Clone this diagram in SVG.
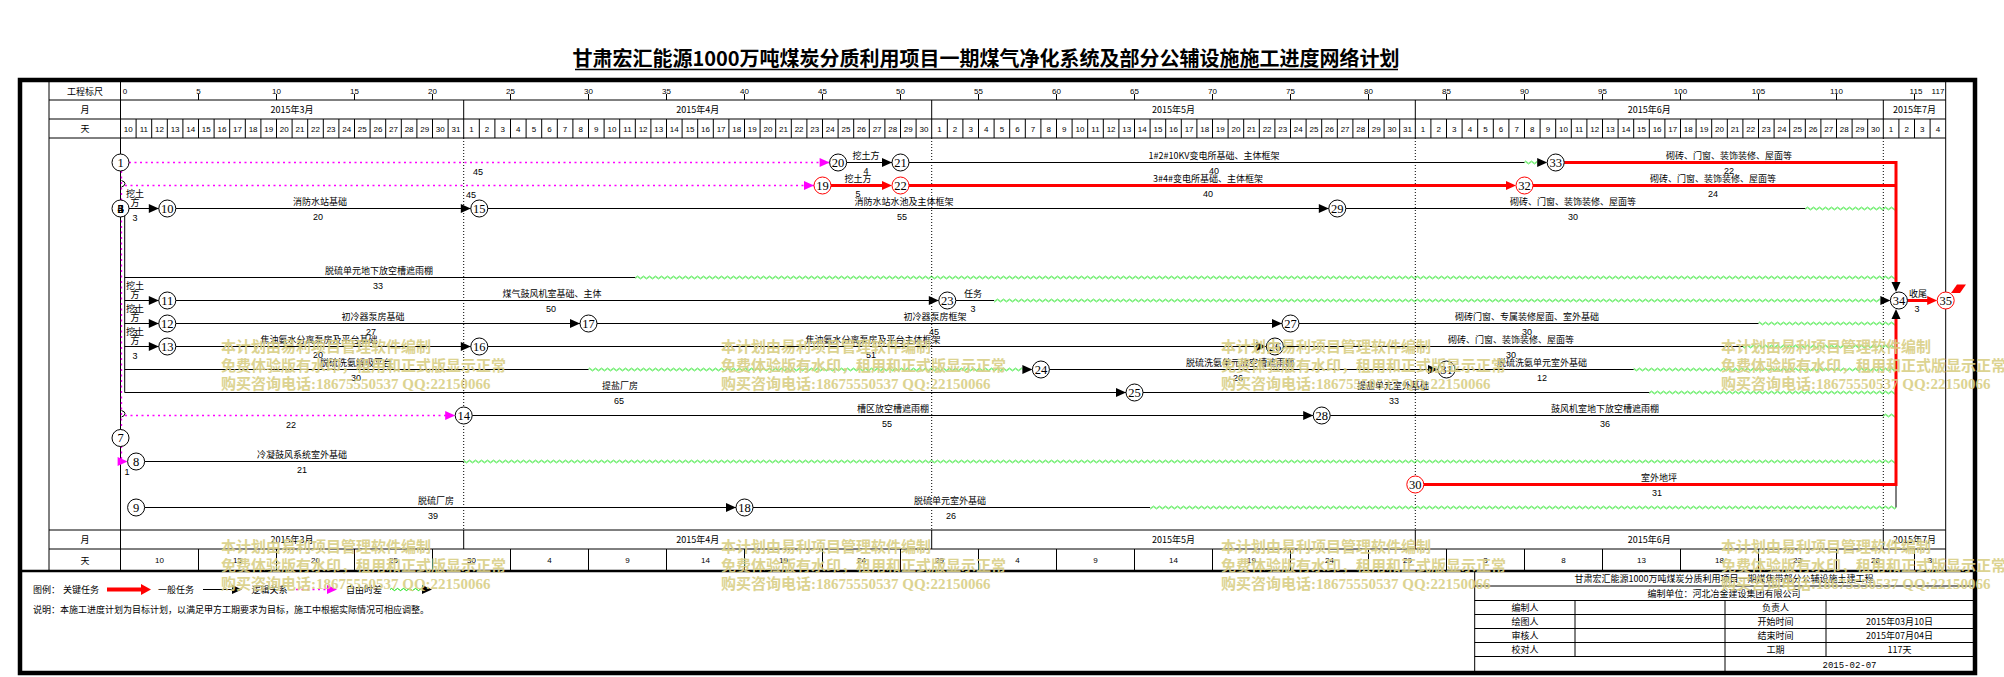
<svg xmlns="http://www.w3.org/2000/svg" xmlns:xlink="http://www.w3.org/1999/xlink" width="2004" height="677" viewBox="0 0 2004 677">
<style>
.t{font-family:"Noto Sans CJK SC","Liberation Sans",sans-serif;font-size:9px;fill:#000}
.c{text-anchor:middle}
.s{text-anchor:start}
.e{text-anchor:end}
.n8{font-family:"Liberation Sans",sans-serif;font-size:8px;fill:#000;text-anchor:middle}
.du{font-family:"Liberation Sans",sans-serif;font-size:9px;fill:#000;text-anchor:middle}
.lb{font-family:"Noto Sans CJK SC","Liberation Sans",sans-serif;font-size:9px;fill:#000;text-anchor:middle}
.nd circle{fill:#fff;stroke:#000;stroke-width:1}
.nd.red circle{stroke:#f00}
.nd text{font-family:"Liberation Serif",serif;font-size:12.5px;fill:#000;text-anchor:middle}
.ln{stroke:#000;stroke-width:1;fill:none}
.crl{stroke:#f00;stroke-width:3;fill:none}
.dm{stroke:#f0f;stroke-width:1.3;stroke-dasharray:2 3.5;fill:none}
.dt{stroke:#000;stroke-width:1;stroke-dasharray:1 2;fill:none}
.ab{fill:#000}
.ar{fill:#f00}
.am{fill:#f0f}
.wv{fill:url(#wave)}
.wm{font-family:"Liberation Serif","Noto Sans CJK SC",serif;font-size:15px;font-weight:bold;fill:#d9cf86;opacity:0.9}
</style>
<defs>
<path id="ah" d="M0,0 L-10,-4.5 L-10,4.5 Z"/>
<pattern id="wave" patternUnits="userSpaceOnUse" x="0" y="159.5" width="6" height="23">
<path d="M0,3 Q1.5,0.8 3,3 T6,3" fill="none" stroke="#00e000" stroke-width="1"/>
</pattern>
</defs>
<rect width="2004" height="677" fill="#fff"/>

<!-- title -->
<text x="986" y="66" text-anchor="middle" style="font-family:'Noto Sans CJK SC',sans-serif;font-size:20px;font-weight:bold">甘肃宏汇能源1000万吨煤炭分质利用项目一期煤气净化系统及部分公辅设施施工进度网络计划</text>
<line x1="575" y1="69.5" x2="1398" y2="69.5" stroke="#000" stroke-width="1.3"/>

<!-- frame and grid -->
<g id="frame">
<rect x="20" y="80" width="1955" height="593" fill="none" stroke="#000" stroke-width="4.5"/>
<line x1="20" y1="571" x2="1975" y2="571" stroke="#000" stroke-width="2.5"/>
<path class="ln" d="M49 100H1945.7M49 119H1945.7M49 138H1945.7M49 530H1945.7M49 549H1945.7M49 82V570M120.5 82V570M1945.7 82V570"/>
<path class="ln" d="M198.5 94v6M276.5 94v6M354.5 94v6M432.5 94v6M510.5 94v6M588.5 94v6M666.5 94v6M744.5 94v6M822.5 94v6M900.5 94v6M978.5 94v6M1056.5 94v6M1134.5 94v6M1212.5 94v6M1290.5 94v6M1368.5 94v6M1446.5 94v6M1524.5 94v6M1602.5 94v6M1680.5 94v6M1758.5 94v6M1836.5 94v6M1914.5 94v6"/>
<path class="ln" d="M463.7 100v19M931.7 100v19M1415.3 100v19M1883.3 100v19M463.7 530v19M931.7 530v19M1415.3 530v19M1883.3 530v19"/>
<path class="ln" d="M136.1 119v19M151.7 119v19M167.3 119v19M182.9 119v19M198.5 119v19M214.1 119v19M229.7 119v19M245.3 119v19M260.9 119v19M276.5 119v19M292.1 119v19M307.7 119v19M323.3 119v19M338.9 119v19M354.5 119v19M370.1 119v19M385.7 119v19M401.3 119v19M416.9 119v19M432.5 119v19M448.1 119v19M463.7 119v19M479.3 119v19M494.9 119v19M510.5 119v19M526.1 119v19M541.7 119v19M557.3 119v19M572.9 119v19M588.5 119v19M604.1 119v19M619.7 119v19M635.3 119v19M650.9 119v19M666.5 119v19M682.1 119v19M697.7 119v19M713.3 119v19M728.9 119v19M744.5 119v19M760.1 119v19M775.7 119v19M791.3 119v19M806.9 119v19M822.5 119v19M838.1 119v19M853.7 119v19M869.3 119v19M884.9 119v19M900.5 119v19M916.1 119v19M931.7 119v19M947.3 119v19M962.9 119v19M978.5 119v19M994.1 119v19M1009.7 119v19M1025.3 119v19M1040.9 119v19M1056.5 119v19M1072.1 119v19M1087.7 119v19M1103.3 119v19M1118.9 119v19M1134.5 119v19M1150.1 119v19M1165.7 119v19M1181.3 119v19M1196.9 119v19M1212.5 119v19M1228.1 119v19M1243.7 119v19M1259.3 119v19M1274.9 119v19M1290.5 119v19M1306.1 119v19M1321.7 119v19M1337.3 119v19M1352.9 119v19M1368.5 119v19M1384.1 119v19M1399.7 119v19M1415.3 119v19M1430.9 119v19M1446.5 119v19M1462.1 119v19M1477.7 119v19M1493.3 119v19M1508.9 119v19M1524.5 119v19M1540.1 119v19M1555.7 119v19M1571.3 119v19M1586.9 119v19M1602.5 119v19M1618.1 119v19M1633.7 119v19M1649.3 119v19M1664.9 119v19M1680.5 119v19M1696.1 119v19M1711.7 119v19M1727.3 119v19M1742.9 119v19M1758.5 119v19M1774.1 119v19M1789.7 119v19M1805.3 119v19M1820.9 119v19M1836.5 119v19M1852.1 119v19M1867.7 119v19M1883.3 119v19M1898.9 119v19M1914.5 119v19M1930.1 119v19"/>
<path class="ln" d="M198.5 549v21M276.5 549v21M354.5 549v21M432.5 549v21M510.5 549v21M588.5 549v21M666.5 549v21M744.5 549v21M822.5 549v21M900.5 549v21M978.5 549v21M1056.5 549v21M1134.5 549v21M1212.5 549v21M1290.5 549v21M1368.5 549v21M1446.5 549v21M1524.5 549v21M1602.5 549v21M1680.5 549v21M1758.5 549v21M1836.5 549v21M1914.5 549v21"/>
<path class="dt" d="M463.7 138V530M931.7 138V530M1415.3 138V530M1883.3 138V530"/>
</g>

<!-- header text -->
<g id="header">
<text class="t c" x="85" y="94.5">工程标尺</text>
<text class="t c" x="85" y="113">月</text>
<text class="t c" x="85" y="132">天</text>
<text class="t c" x="85" y="543">月</text>
<text class="t c" x="85" y="563.5">天</text>
<text class="n8" y="94"><tspan x="125">0</tspan><tspan x="198.5">5</tspan><tspan x="276.5">10</tspan><tspan x="354.5">15</tspan><tspan x="432.5">20</tspan><tspan x="510.5">25</tspan><tspan x="588.5">30</tspan><tspan x="666.5">35</tspan><tspan x="744.5">40</tspan><tspan x="822.5">45</tspan><tspan x="900.5">50</tspan><tspan x="978.5">55</tspan><tspan x="1056.5">60</tspan><tspan x="1134.5">65</tspan><tspan x="1212.5">70</tspan><tspan x="1290.5">75</tspan><tspan x="1368.5">80</tspan><tspan x="1446.5">85</tspan><tspan x="1524.5">90</tspan><tspan x="1602.5">95</tspan><tspan x="1680.5">100</tspan><tspan x="1758.5">105</tspan><tspan x="1836.5">110</tspan><tspan x="1916">115</tspan><tspan x="1938">117</tspan></text>
<text class="t c" y="112.5"><tspan x="292.1">2015年3月</tspan><tspan x="697.7">2015年4月</tspan><tspan x="1173.5">2015年5月</tspan><tspan x="1649.3">2015年6月</tspan><tspan x="1914.5">2015年7月</tspan></text>
<text class="t c" y="542.5"><tspan x="292.1">2015年3月</tspan><tspan x="697.7">2015年4月</tspan><tspan x="1173.5">2015年5月</tspan><tspan x="1649.3">2015年6月</tspan><tspan x="1914.5">2015年7月</tspan></text>
<text class="n8" y="131.5"><tspan x="128.3">10</tspan><tspan x="143.9">11</tspan><tspan x="159.5">12</tspan><tspan x="175.1">13</tspan><tspan x="190.7">14</tspan><tspan x="206.3">15</tspan><tspan x="221.9">16</tspan><tspan x="237.5">17</tspan><tspan x="253.1">18</tspan><tspan x="268.7">19</tspan><tspan x="284.3">20</tspan><tspan x="299.9">21</tspan><tspan x="315.5">22</tspan><tspan x="331.1">23</tspan><tspan x="346.7">24</tspan><tspan x="362.3">25</tspan><tspan x="377.9">26</tspan><tspan x="393.5">27</tspan><tspan x="409.1">28</tspan><tspan x="424.7">29</tspan><tspan x="440.3">30</tspan><tspan x="455.9">31</tspan></text>
<text class="n8" y="131.5"><tspan x="471.5">1</tspan><tspan x="487.1">2</tspan><tspan x="502.7">3</tspan><tspan x="518.3">4</tspan><tspan x="533.9">5</tspan><tspan x="549.5">6</tspan><tspan x="565.1">7</tspan><tspan x="580.7">8</tspan><tspan x="596.3">9</tspan><tspan x="611.9">10</tspan><tspan x="627.5">11</tspan><tspan x="643.1">12</tspan><tspan x="658.7">13</tspan><tspan x="674.3">14</tspan><tspan x="689.9">15</tspan><tspan x="705.5">16</tspan><tspan x="721.1">17</tspan><tspan x="736.7">18</tspan><tspan x="752.3">19</tspan><tspan x="767.9">20</tspan><tspan x="783.5">21</tspan><tspan x="799.1">22</tspan><tspan x="814.7">23</tspan><tspan x="830.3">24</tspan><tspan x="845.9">25</tspan><tspan x="861.5">26</tspan><tspan x="877.1">27</tspan><tspan x="892.7">28</tspan><tspan x="908.3">29</tspan><tspan x="923.9">30</tspan></text>
<text class="n8" y="131.5"><tspan x="939.5">1</tspan><tspan x="955.1">2</tspan><tspan x="970.7">3</tspan><tspan x="986.3">4</tspan><tspan x="1001.9">5</tspan><tspan x="1017.5">6</tspan><tspan x="1033.1">7</tspan><tspan x="1048.7">8</tspan><tspan x="1064.3">9</tspan><tspan x="1079.9">10</tspan><tspan x="1095.5">11</tspan><tspan x="1111.1">12</tspan><tspan x="1126.7">13</tspan><tspan x="1142.3">14</tspan><tspan x="1157.9">15</tspan><tspan x="1173.5">16</tspan><tspan x="1189.1">17</tspan><tspan x="1204.7">18</tspan><tspan x="1220.3">19</tspan><tspan x="1235.9">20</tspan><tspan x="1251.5">21</tspan><tspan x="1267.1">22</tspan><tspan x="1282.7">23</tspan><tspan x="1298.3">24</tspan><tspan x="1313.9">25</tspan><tspan x="1329.5">26</tspan><tspan x="1345.1">27</tspan><tspan x="1360.7">28</tspan><tspan x="1376.3">29</tspan><tspan x="1391.9">30</tspan><tspan x="1407.5">31</tspan></text>
<text class="n8" y="131.5"><tspan x="1423.1">1</tspan><tspan x="1438.7">2</tspan><tspan x="1454.3">3</tspan><tspan x="1469.9">4</tspan><tspan x="1485.5">5</tspan><tspan x="1501.1">6</tspan><tspan x="1516.7">7</tspan><tspan x="1532.3">8</tspan><tspan x="1547.9">9</tspan><tspan x="1563.5">10</tspan><tspan x="1579.1">11</tspan><tspan x="1594.7">12</tspan><tspan x="1610.3">13</tspan><tspan x="1625.9">14</tspan><tspan x="1641.5">15</tspan><tspan x="1657.1">16</tspan><tspan x="1672.7">17</tspan><tspan x="1688.3">18</tspan><tspan x="1703.9">19</tspan><tspan x="1719.5">20</tspan><tspan x="1735.1">21</tspan><tspan x="1750.7">22</tspan><tspan x="1766.3">23</tspan><tspan x="1781.9">24</tspan><tspan x="1797.5">25</tspan><tspan x="1813.1">26</tspan><tspan x="1828.7">27</tspan><tspan x="1844.3">28</tspan><tspan x="1859.9">29</tspan><tspan x="1875.5">30</tspan><tspan x="1891.1">1</tspan><tspan x="1906.7">2</tspan><tspan x="1922.3">3</tspan><tspan x="1937.9">4</tspan></text>
<text class="n8" y="563"><tspan x="159.5">10</tspan><tspan x="237.5">15</tspan><tspan x="315.5">20</tspan><tspan x="393.5">25</tspan><tspan x="471.5">30</tspan><tspan x="549.5">4</tspan><tspan x="627.5">9</tspan><tspan x="705.5">14</tspan><tspan x="783.5">19</tspan><tspan x="861.5">24</tspan><tspan x="939.5">29</tspan><tspan x="1017.5">4</tspan><tspan x="1095.5">9</tspan><tspan x="1173.5">14</tspan><tspan x="1251.5">19</tspan><tspan x="1329.5">24</tspan><tspan x="1407.5">29</tspan><tspan x="1485.5">3</tspan><tspan x="1563.5">8</tspan><tspan x="1641.5">13</tspan><tspan x="1719.5">18</tspan><tspan x="1797.5">23</tspan><tspan x="1875.5">28</tspan><tspan x="1930.1">3</tspan></text>
</g>

<!-- connectors -->
<g id="connectors">
<path class="dm" d="M121.5 171V461.5M129 162.5H829.6M125 185.5H814M125 415.5H455.2"/>
<path class="ln" d="M121.5 180.5q3.5 1 3.5 3.2q0 2.2 -3.5 3.3M121.5 410.5q3.5 1 3.5 3.2q0 2.2 -3.5 3.3" stroke-width="0.8"/>
<path class="ln" d="M124.7 208.5V392.5"/>
<path class="ln" d="M846.6 162.5H892M909 162.5H1524.5
M124.7 208.5H158.8M175.8 208.5H470.8M487.8 208.5H1328.8M1345.8 208.5H1805.3
M124.7 277.5H635.3
M124.7 300.5H158.8M175.8 300.5H938.8M955.8 300.5H994.1
M124.7 323.5H158.8M175.8 323.5H580M597 323.5H1282M1299 323.5H1758.5
M124.7 346.5H158.8M175.8 346.5H470.8M487.8 346.5H1266.4M1283.4 346.5H1742.9
M124.7 369.5H588.5M1049.4 369.5H1438M1455 369.5H1633.7
M124.7 392.5H1126M1143 392.5H1649.3
M472.2 415.5H1313.2M1330.2 415.5H1883.3
M144.6 461.5H463.7
M144.6 507.5H736M753 507.5H1150.1
M1896 507.5V484.5"/>
<rect class="wv" x="1524.5" y="159.5" width="12.7" height="6"/>
<rect class="wv" x="1805.3" y="205.5" width="90.7" height="6"/>
<rect class="wv" x="635.3" y="274.5" width="1260.7" height="6"/>
<rect class="wv" x="994.1" y="297.5" width="886.3" height="6"/>
<rect class="wv" x="1758.5" y="320.5" width="137.5" height="6"/>
<rect class="wv" x="1742.9" y="343.5" width="153.1" height="6"/>
<rect class="wv" x="588.5" y="366.5" width="433.9" height="6"/>
<rect class="wv" x="1633.7" y="366.5" width="262.3" height="6"/>
<rect class="wv" x="1649.3" y="389.5" width="246.7" height="6"/>
<rect class="wv" x="1883.3" y="412.5" width="12.7" height="6"/>
<rect class="wv" x="463.7" y="458.5" width="1432.3" height="6"/>
<rect class="wv" x="1150.1" y="504.5" width="745.9" height="6"/>
<path class="crl" d="M831 185.5H883M909 185.5H1507M1533 185.5H1896M1564.2 162.5H1896V282M1423.8 484.5H1896V319M1907.4 300.5H1928"/>
<use href="#ah" xlink:href="#ah" class="am" x="829.6" y="162.5"/>
<use href="#ah" xlink:href="#ah" class="am" x="814" y="185.5"/>
<use href="#ah" xlink:href="#ah" class="am" x="455.2" y="415.5"/>
<use href="#ah" xlink:href="#ah" class="am" x="127.6" y="461.5"/>
<use href="#ah" xlink:href="#ah" class="ab" x="892" y="162.5"/>
<use href="#ah" xlink:href="#ah" class="ab" x="1547.2" y="162.5"/>
<use href="#ah" xlink:href="#ah" class="ar" x="892" y="185.5"/>
<use href="#ah" xlink:href="#ah" class="ar" x="1516" y="185.5"/>
<use href="#ah" xlink:href="#ah" class="ab" x="158.8" y="208.5"/>
<use href="#ah" xlink:href="#ah" class="ab" x="470.8" y="208.5"/>
<use href="#ah" xlink:href="#ah" class="ab" x="1328.8" y="208.5"/>
<use href="#ah" xlink:href="#ah" class="ab" x="158.8" y="300.5"/>
<use href="#ah" xlink:href="#ah" class="ab" x="938.8" y="300.5"/>
<use href="#ah" xlink:href="#ah" class="ab" x="1890.4" y="300.5"/>
<use href="#ah" xlink:href="#ah" class="ar" x="1937.2" y="300.5"/>
<use href="#ah" xlink:href="#ah" class="ab" x="158.8" y="323.5"/>
<use href="#ah" xlink:href="#ah" class="ab" x="580" y="323.5"/>
<use href="#ah" xlink:href="#ah" class="ab" x="1282" y="323.5"/>
<use href="#ah" xlink:href="#ah" class="ab" x="158.8" y="346.5"/>
<use href="#ah" xlink:href="#ah" class="ab" x="470.8" y="346.5"/>
<use href="#ah" xlink:href="#ah" class="ab" x="1266.4" y="346.5"/>
<use href="#ah" xlink:href="#ah" class="ab" x="1032.4" y="369.5"/>
<use href="#ah" xlink:href="#ah" class="ab" x="1438" y="369.5"/>
<use href="#ah" xlink:href="#ah" class="ab" x="1126" y="392.5"/>
<use href="#ah" xlink:href="#ah" class="ab" x="1313.2" y="415.5"/>
<use href="#ah" xlink:href="#ah" class="ab" x="736" y="507.5"/>
<use href="#ah" xlink:href="#ah" class="ab" transform="translate(1896,292) rotate(90)"/>
<use href="#ah" xlink:href="#ah" class="ab" transform="translate(1896,309) rotate(-90)"/>
</g>

<!-- task labels -->
<g id="labels">
<text class="lb" x="135" y="196.7">挖土</text><text class="lb" x="135" y="205.7">方</text><text class="du" x="135" y="220.5">3</text>
<text class="lb" x="135" y="288.7">挖土</text><text class="lb" x="135" y="297.7">方</text><text class="du" x="135" y="312.5">3</text>
<text class="lb" x="135" y="311.7">挖土</text><text class="lb" x="135" y="320.7">方</text><text class="du" x="135" y="335.5">3</text>
<text class="lb" x="135" y="334.7">挖土</text><text class="lb" x="135" y="343.7">方</text><text class="du" x="135" y="358.5">3</text>
<text class="du" x="478" y="174.5">45</text>
<text class="du" x="471" y="197.5">45</text>
<text class="du" x="291" y="427.5">22</text>
<text class="du" x="127" y="475">1</text>
<text class="lb" x="866" y="159">挖土方</text><text class="du" x="866" y="174">4</text>
<text class="lb" x="1214" y="159">1#2#10KV变电所基础、主体框架</text><text class="du" x="1214" y="174">40</text>
<text class="lb" x="1729" y="159">砌砖、门窗、装饰装修、屋面等</text><text class="du" x="1729" y="174">22</text>
<text class="lb" x="858" y="182">挖土方</text><text class="du" x="858" y="197">5</text>
<text class="lb" x="1208" y="182">3#4#变电所基础、主体框架</text><text class="du" x="1208" y="197">40</text>
<text class="lb" x="1713" y="182">砌砖、门窗、装饰装修、屋面等</text><text class="du" x="1713" y="197">24</text>
<text class="lb" x="320" y="205">消防水站基础</text><text class="du" x="318" y="220">20</text>
<text class="lb" x="904" y="205">消防水站水池及主体框架</text><text class="du" x="902" y="220">55</text>
<text class="lb" x="1573" y="205">砌砖、门窗、装饰装修、屋面等</text><text class="du" x="1573" y="220">30</text>
<text class="lb" x="379" y="274">脱硫单元地下放空槽遮雨棚</text><text class="du" x="378" y="289">33</text>
<text class="lb" x="552" y="297">煤气鼓风机室基础、主体</text><text class="du" x="551" y="312">50</text>
<text class="lb" x="973" y="297">任务</text><text class="du" x="973" y="312">3</text>
<text class="lb" x="1918" y="297">收尾</text><text class="du" x="1917" y="312">3</text>
<text class="lb" x="373" y="320">初冷器泵房基础</text><text class="du" x="371" y="335">27</text>
<text class="lb" x="935" y="320">初冷器泵房框架</text><text class="du" x="934" y="335">45</text>
<text class="lb" x="1527" y="320">砌砖门窗、专属装修屋面、室外基础</text><text class="du" x="1527" y="335">30</text>
<text class="lb" x="319" y="343">焦油氨水分离泵房及平台基础</text><text class="du" x="318" y="358">20</text>
<text class="lb" x="873" y="343">焦油氨水分离泵房及平台主体框架</text><text class="du" x="871" y="358">51</text>
<text class="lb" x="1511" y="343">砌砖、门窗、装饰装修、屋面等</text><text class="du" x="1511" y="358">30</text>
<text class="lb" x="356" y="366">脱硫洗氨解吸平台</text><text class="du" x="356" y="381">30</text>
<text class="lb" x="1240" y="366">脱硫洗氨单元放空槽遮雨棚</text><text class="du" x="1238" y="381">26</text>
<text class="lb" x="1542" y="366">脱硫洗氨单元室外基础</text><text class="du" x="1542" y="381">12</text>
<text class="lb" x="620" y="389">提盐厂房</text><text class="du" x="619" y="404">65</text>
<text class="lb" x="1393" y="389">提盐单元室外基础</text><text class="du" x="1394" y="404">33</text>
<text class="lb" x="893" y="412">槽区放空槽遮雨棚</text><text class="du" x="887" y="427">55</text>
<text class="lb" x="1605" y="412">鼓风机室地下放空槽遮雨棚</text><text class="du" x="1605" y="427">36</text>
<text class="lb" x="302" y="458">冷凝鼓风系统室外基础</text><text class="du" x="302" y="473">21</text>
<text class="lb" x="1659" y="481">室外地坪</text><text class="du" x="1657" y="496">31</text>
<text class="lb" x="436" y="504">脱硫厂房</text><text class="du" x="433" y="519">39</text>
<text class="lb" x="950" y="504">脱硫单元室外基础</text><text class="du" x="951" y="519">26</text>
</g>

<!-- nodes -->
<g id="n1" class="nd"><circle cx="120.5" cy="162.5" r="8.5"/><text x="120.5" y="166.8">1</text></g>
<g id="n2-6" class="nd"><circle cx="120.5" cy="208.5" r="8.5"/><text x="120.5" y="212.8">2</text><text x="120.5" y="212.8">3</text><text x="120.5" y="212.8">4</text><text x="120.5" y="212.8">5</text><text x="120.5" y="212.8">6</text></g>
<g id="n7" class="nd"><circle cx="120.5" cy="438" r="8.5"/><text x="120.5" y="442.3">7</text></g>
<g id="n8" class="nd"><circle cx="136.1" cy="461.5" r="8.5"/><text x="136.1" y="465.8">8</text></g>
<g id="n9" class="nd"><circle cx="136.1" cy="507.5" r="8.5"/><text x="136.1" y="511.8">9</text></g>
<g id="n10" class="nd"><circle cx="167.3" cy="208.5" r="8.5"/><text x="167.3" y="212.8">10</text></g>
<g id="n11" class="nd"><circle cx="167.3" cy="300.5" r="8.5"/><text x="167.3" y="304.8">11</text></g>
<g id="n12" class="nd"><circle cx="167.3" cy="323.5" r="8.5"/><text x="167.3" y="327.8">12</text></g>
<g id="n13" class="nd"><circle cx="167.3" cy="346.5" r="8.5"/><text x="167.3" y="350.8">13</text></g>
<g id="n14" class="nd"><circle cx="463.7" cy="415.5" r="8.5"/><text x="463.7" y="419.8">14</text></g>
<g id="n15" class="nd"><circle cx="479.3" cy="208.5" r="8.5"/><text x="479.3" y="212.8">15</text></g>
<g id="n16" class="nd"><circle cx="479.3" cy="346.5" r="8.5"/><text x="479.3" y="350.8">16</text></g>
<g id="n17" class="nd"><circle cx="588.5" cy="323.5" r="8.5"/><text x="588.5" y="327.8">17</text></g>
<g id="n18" class="nd"><circle cx="744.5" cy="507.5" r="8.5"/><text x="744.5" y="511.8">18</text></g>
<g id="n19" class="nd red"><circle cx="822.5" cy="185.5" r="8.5"/><text x="822.5" y="189.8">19</text></g>
<g id="n20" class="nd"><circle cx="838.1" cy="162.5" r="8.5"/><text x="838.1" y="166.8">20</text></g>
<g id="n21" class="nd"><circle cx="900.5" cy="162.5" r="8.5"/><text x="900.5" y="166.8">21</text></g>
<g id="n22" class="nd red"><circle cx="900.5" cy="185.5" r="8.5"/><text x="900.5" y="189.8">22</text></g>
<g id="n23" class="nd"><circle cx="947.3" cy="300.5" r="8.5"/><text x="947.3" y="304.8">23</text></g>
<g id="n24" class="nd"><circle cx="1040.9" cy="369.5" r="8.5"/><text x="1040.9" y="373.8">24</text></g>
<g id="n25" class="nd"><circle cx="1134.5" cy="392.5" r="8.5"/><text x="1134.5" y="396.8">25</text></g>
<g id="n26" class="nd"><circle cx="1274.9" cy="346.5" r="8.5"/><text x="1274.9" y="350.8">26</text></g>
<g id="n27" class="nd"><circle cx="1290.5" cy="323.5" r="8.5"/><text x="1290.5" y="327.8">27</text></g>
<g id="n28" class="nd"><circle cx="1321.7" cy="415.5" r="8.5"/><text x="1321.7" y="419.8">28</text></g>
<g id="n29" class="nd"><circle cx="1337.3" cy="208.5" r="8.5"/><text x="1337.3" y="212.8">29</text></g>
<g id="n30" class="nd red"><circle cx="1415.3" cy="484.5" r="8.5"/><text x="1415.3" y="488.8">30</text></g>
<g id="n31" class="nd"><circle cx="1446.5" cy="369.5" r="8.5"/><text x="1446.5" y="373.8">31</text></g>
<g id="n32" class="nd red"><circle cx="1524.5" cy="185.5" r="8.5"/><text x="1524.5" y="189.8">32</text></g>
<g id="n33" class="nd"><circle cx="1555.7" cy="162.5" r="8.5"/><text x="1555.7" y="166.8">33</text></g>
<g id="n34" class="nd"><circle cx="1898.9" cy="300.5" r="8.5"/><text x="1898.9" y="304.8">34</text></g>
<g id="n35" class="nd red"><circle cx="1945.7" cy="300.5" r="8.5"/><text x="1945.7" y="304.8">35</text><polygon points="1951,293 1957,284.5 1966,284.5 1960,293" fill="#f00"/></g>

<!-- legend -->
<g id="legend">
<text class="t s" x="33" y="592.5">图例：</text>
<text class="t s" x="63" y="592.5">关键任务</text>
<line x1="107" y1="589.5" x2="142" y2="589.5" stroke="#f00" stroke-width="4"/>
<polygon points="141,584 151,589.5 141,595" fill="#f00"/>
<text class="t s" x="158" y="592.5">一般任务</text>
<line class="ln" x1="203" y1="589.5" x2="233" y2="589.5"/>
<use href="#ah" xlink:href="#ah" class="ab" x="242" y="589.5"/>
<text class="t s" x="251.5" y="592.5">逻辑关系</text>
<line class="dm" x1="296" y1="589.5" x2="327" y2="589.5"/>
<use href="#ah" xlink:href="#ah" class="am" x="337" y="589.5"/>
<text class="t s" x="346" y="592.5">自由时差</text>
<path d="M390,589.5 q1.5,-2.2 3,0 t3,0 t3,0 t3,0 t3,0 t3,0 t3,0 t3,0 t3,0 t3,0 t3,0" fill="none" stroke="#00e000" stroke-width="1"/>
<use href="#ah" xlink:href="#ah" class="ab" x="432" y="589.5"/>
<text class="t s" x="33" y="612.5">说明：本施工进度计划为目标计划，以满足甲方工期要求为目标，施工中根据实际情况可相应调整。</text>
</g>

<!-- title block -->
<g id="titleblock">
<path class="ln" d="M1474.7 571V673M1474.7 586H1973M1474.7 600.5H1973M1474.7 614.5H1973M1474.7 628.5H1973M1474.7 642.5H1973M1474.7 656.5H1973M1575 600.5V656.5M1725 600.5V673M1826 600.5V656.5" stroke-width="1.2"/>
<text class="t c" x="1724" y="582">甘肃宏汇能源1000万吨煤炭分质利用项目一期煤焦带部分公辅设施土建工程</text>
<text class="t c" x="1724" y="596.5">编制单位：河北冶金建设集团有限公司</text>
<text class="t c" x="1525" y="610.7">编制人</text><text class="t c" x="1775.5" y="610.7">负责人</text>
<text class="t c" x="1525" y="624.7">绘图人</text><text class="t c" x="1775.5" y="624.7">开始时间</text><text class="t c" x="1899.5" y="624.7">2015年03月10日</text>
<text class="t c" x="1525" y="638.7">审核人</text><text class="t c" x="1775.5" y="638.7">结束时间</text><text class="t c" x="1899.5" y="638.7">2015年07月04日</text>
<text class="t c" x="1525" y="652.7">校对人</text><text class="t c" x="1775.5" y="652.7">工期</text><text class="t c" x="1899.5" y="652.7">117天</text>
<text class="t c" x="1849.5" y="668" style="font-family:'Liberation Mono',monospace">2015-02-07</text>
</g>

<!-- watermark -->
<g id="watermark" class="wm">
<text x="221" y="352">本计划由易利项目管理软件编制</text><text x="221" y="370.5">免费体验版有水印，租用和正式版显示正常</text><text x="221" y="389">购买咨询电话:18675550537 QQ:22150066</text>
<text x="721" y="352">本计划由易利项目管理软件编制</text><text x="721" y="370.5">免费体验版有水印，租用和正式版显示正常</text><text x="721" y="389">购买咨询电话:18675550537 QQ:22150066</text>
<text x="1221" y="352">本计划由易利项目管理软件编制</text><text x="1221" y="370.5">免费体验版有水印，租用和正式版显示正常</text><text x="1221" y="389">购买咨询电话:18675550537 QQ:22150066</text>
<text x="1721" y="352">本计划由易利项目管理软件编制</text><text x="1721" y="370.5">免费体验版有水印，租用和正式版显示正常</text><text x="1721" y="389">购买咨询电话:18675550537 QQ:22150066</text>
<text x="221" y="552">本计划由易利项目管理软件编制</text><text x="221" y="570.5">免费体验版有水印，租用和正式版显示正常</text><text x="221" y="589">购买咨询电话:18675550537 QQ:22150066</text>
<text x="721" y="552">本计划由易利项目管理软件编制</text><text x="721" y="570.5">免费体验版有水印，租用和正式版显示正常</text><text x="721" y="589">购买咨询电话:18675550537 QQ:22150066</text>
<text x="1221" y="552">本计划由易利项目管理软件编制</text><text x="1221" y="570.5">免费体验版有水印，租用和正式版显示正常</text><text x="1221" y="589">购买咨询电话:18675550537 QQ:22150066</text>
<text x="1721" y="552">本计划由易利项目管理软件编制</text><text x="1721" y="570.5">免费体验版有水印，租用和正式版显示正常</text><text x="1721" y="589">购买咨询电话:18675550537 QQ:22150066</text>
</g>
</svg>
